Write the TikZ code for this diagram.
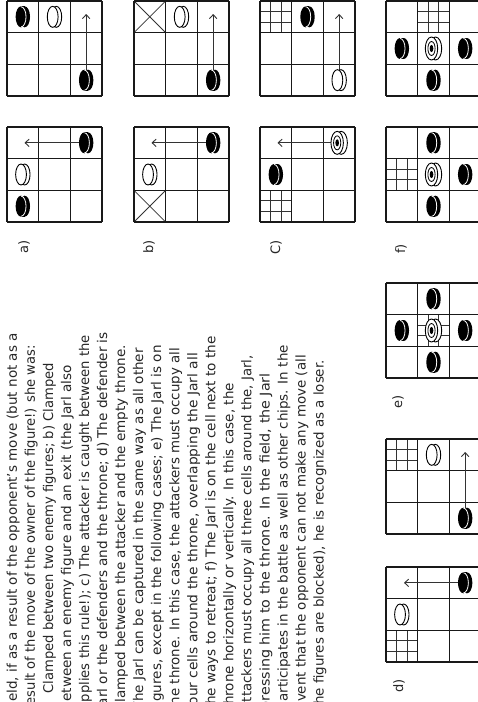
\documentclass[tikz,border=0pt]{standalone}
\usepackage{graphicx}
\usepackage{fontspec}
\setmainfont{DejaVu Sans}
\usetikzlibrary{arrows.meta}
\def\cs{31.667}
\newcommand{\fitline}[2]{\resizebox{#1pt}{\height}{#2}}
\tikzset{
  gl/.style={line width=1.2pt, draw=black!90},
  hl/.style={line width=0.8pt, draw=black!80},
  arr/.style={line width=0.9pt, draw=black!80, -{Straight Barb[length=4pt,width=7.5pt,line width=0.9pt]}},
  txt/.style={rotate=90, anchor=base east, inner sep=0pt, text=black!85, font=\fontsize{13.4}{16}\selectfont},
  lab/.style={rotate=90, inner sep=0pt, text=black!85, font=\fontsize{13}{16}\selectfont},
  bchip/.pic={
    \fill (1.8,0) ellipse [x radius=5.4, y radius=10.5];
    \fill (-1.8,-10.5) rectangle (1.8,10.5);
    \fill (-1.8,0) ellipse [x radius=5.4, y radius=10.5];
    \begin{scope}
      \clip (-1.8,-11.5) rectangle (7,11.5);
      \draw[white, line width=0.8pt] (-1.8,0) ellipse [x radius=5.0, y radius=10.1];
    \end{scope}
  },
  wchip/.pic={
    \filldraw[fill=white, line width=0.9pt] (1.8,0) ellipse [x radius=5.4, y radius=10.5];
    \filldraw[fill=white, line width=0.9pt] (-1.8,0) ellipse [x radius=5.4, y radius=10.5];
  },
  jarl/.pic={
    \filldraw[fill=white, line width=0.9pt] (2,0) ellipse [x radius=6.2, y radius=11.5];
    \filldraw[fill=white, line width=0.9pt] (-2,0) ellipse [x radius=6.2, y radius=11.5];
    \draw[line width=0.8pt] (-2,0) ellipse [x radius=3.6, y radius=7];
    \fill (-2,0) ellipse [x radius=1.8, y radius=3.6];
  },
  throne/.pic={
    \draw[hl] ({\cs/3},0) -- ({\cs/3},\cs);
    \draw[hl] ({2*\cs/3},0) -- ({2*\cs/3},\cs);
    \draw[hl] (0,{\cs/3}) -- (\cs,{\cs/3});
    \draw[hl] (0,{2*\cs/3}) -- (\cs,{2*\cs/3});
  },
  exitcell/.pic={
    \draw[hl] (0,0) -- (\cs,\cs);
    \draw[hl] (\cs,0) -- (0,\cs);
  }
}
\newcommand{\boardlines}{%
  \foreach \i in {0,1,2,3}{%
    \draw[gl] ({\i*\cs},0) -- ({\i*\cs},{3*\cs});
    \draw[gl] (0,{\i*\cs}) -- ({3*\cs},{\i*\cs});
  }}
\begin{document}
\begin{tikzpicture}[x=1pt,y=-1pt]
\useasboundingbox (0,0) rectangle (478,702);
\fill[white] (0,0) rectangle (478,702);
\begin{scope}
\clip (0,0) rectangle (478,702);

% ---------- a) ----------
\begin{scope}[shift={(7,1)}]
  \boardlines
  \coordinate (A1s) at ({2.5*\cs},{2.5*\cs});
  \coordinate (A1t) at ({2.5*\cs},13);
  \draw[arr] (A1s) -- (A1t);
  \pic at ({0.5*\cs},{0.5*\cs}) {bchip};
  \pic at ({1.5*\cs},{0.5*\cs}) {wchip};
  \pic at (A1s) {bchip};
\end{scope}
\begin{scope}[shift={(7,127)}]
  \boardlines
  \coordinate (A2s) at ({2.5*\cs},{0.5*\cs});
  \coordinate (A2t) at (17.5,{0.5*\cs});
  \draw[arr] (A2s) -- (A2t);
  \pic at (A2s) {bchip};
  \pic at ({0.5*\cs},{1.5*\cs}) {wchip};
  \pic at ({0.5*\cs},{2.5*\cs}) {bchip};
\end{scope}

% ---------- b) ----------
\begin{scope}[shift={(134,1)}]
  \pic at (0,0) {exitcell};
  \boardlines
  \coordinate (B1s) at ({2.5*\cs},{2.5*\cs});
  \coordinate (B1t) at ({2.5*\cs},13);
  \draw[arr] (B1s) -- (B1t);
  \pic at ({1.5*\cs},{0.5*\cs}) {wchip};
  \pic at (B1s) {bchip};
\end{scope}
\begin{scope}[shift={(134,127)}]
  \pic at (0,{2*\cs}) {exitcell};
  \boardlines
  \coordinate (B2s) at ({2.5*\cs},{0.5*\cs});
  \coordinate (B2t) at (17.5,{0.5*\cs});
  \draw[arr] (B2s) -- (B2t);
  \pic at (B2s) {bchip};
  \pic at ({0.5*\cs},{1.5*\cs}) {wchip};
\end{scope}

% ---------- c) ----------
\begin{scope}[shift={(260,1)}]
  \pic at (0,0) {throne};
  \boardlines
  \coordinate (C1s) at ({2.5*\cs},{2.5*\cs});
  \coordinate (C1t) at ({2.5*\cs},13);
  \draw[arr] (C1s) -- (C1t);
  \pic at ({1.5*\cs},{0.5*\cs}) {bchip};
  \pic at (C1s) {wchip};
\end{scope}
\begin{scope}[shift={(260,127)}]
  \pic at (0,{2*\cs}) {throne};
  \boardlines
  \coordinate (C2s) at ({2.5*\cs},{0.5*\cs});
  \coordinate (C2t) at (17.5,{0.5*\cs});
  \draw[arr] (C2s) -- (C2t);
  \pic at (C2s) {jarl};
  \pic at ({0.5*\cs},{1.5*\cs}) {bchip};
\end{scope}

% ---------- f) ----------
\begin{scope}[shift={(386,1)}]
  \pic at (\cs,0) {throne};
  \boardlines
  \pic at ({0.5*\cs},{1.5*\cs}) {bchip};
  \pic at ({1.5*\cs},{1.5*\cs}) {jarl};
  \pic at ({2.5*\cs},{1.5*\cs}) {bchip};
  \pic at ({1.5*\cs},{2.5*\cs}) {bchip};
\end{scope}
\begin{scope}[shift={(386,127)}]
  \pic at (0,\cs) {throne};
  \boardlines
  \pic at ({1.5*\cs},{0.5*\cs}) {bchip};
  \pic at ({1.5*\cs},{1.5*\cs}) {jarl};
  \pic at ({2.5*\cs},{1.5*\cs}) {bchip};
  \pic at ({1.5*\cs},{2.5*\cs}) {bchip};
\end{scope}

% ---------- e) ----------
\begin{scope}[shift={(386,283)}]
  \pic at (\cs,\cs) {throne};
  \boardlines
  \pic at ({1.5*\cs},{0.5*\cs}) {bchip};
  \pic at ({0.5*\cs},{1.5*\cs}) {bchip};
  \pic at ({1.5*\cs},{1.5*\cs}) {jarl};
  \pic at ({2.5*\cs},{1.5*\cs}) {bchip};
  \pic at ({1.5*\cs},{2.5*\cs}) {bchip};
\end{scope}

% ---------- d) ----------
\begin{scope}[shift={(386,439)}]
  \pic at (0,0) {throne};
  \boardlines
  \coordinate (D1s) at ({2.5*\cs},{2.5*\cs});
  \coordinate (D1t) at ({2.5*\cs},13);
  \draw[arr] (D1s) -- (D1t);
  \pic at ({1.5*\cs},{0.5*\cs}) {wchip};
  \pic at (D1s) {bchip};
\end{scope}
\begin{scope}[shift={(386,567)}]
  \pic at (0,{2*\cs}) {throne};
  \boardlines
  \coordinate (D2s) at ({2.5*\cs},{0.5*\cs});
  \coordinate (D2t) at (18,{0.5*\cs});
  \draw[arr] (D2s) -- (D2t);
  \pic at (D2s) {bchip};
  \pic at ({0.5*\cs},{1.5*\cs}) {wchip};
\end{scope}

% ---------- labels ----------
\node[lab] (la) at (24,247) {a)};
\node[lab] (lb) at (149,247) {b)};
\node[lab] (lc) at (276,247) {C)};
\node[lab] (lf) at (401,249) {f)};
\node[lab] (le) at (398,402) {e)};
\node[lab] (ld) at (399,686) {d)};

% ---------- text ----------
\node[txt] (t0) at (16.9,333) {\fitline{377}{field, if as a result of the opponent's move (but not as a}};
\node[txt] (t1) at (34.9,345) {\fitline{365}{result of the move of the owner of the figure!) she was:}};
\node[txt] (t2) at (53.0,363) {\fitline{330}{Clamped between two enemy figures; b) Clamped}};
\node[txt] (t3) at (71.0,365) {\fitline{345}{between an enemy figure and an exit (the Jarl also}};
\node[txt] (t4) at (89.1,335) {\fitline{375}{applies this rule!); c) The attacker is caught between the}};
\node[txt] (t5) at (107.1,332) {\fitline{378}{Jarl or the defenders and the throne; d) The defender is}};
\node[txt] (t6) at (125.1,345) {\fitline{365}{clamped between the attacker and the empty throne.}};
\node[txt] (t7) at (143.2,348) {\fitline{362}{The Jarl can be captured in the same way as all other}};
\node[txt] (t8) at (161.2,345) {\fitline{365}{figures, except in the following cases; e) The Jarl is on}};
\node[txt] (t9) at (179.3,348) {\fitline{362}{the throne. In this case, the attackers must occupy all}};
\node[txt] (t10) at (197.3,353) {\fitline{357}{four cells around the throne, overlapping the Jarl all}};
\node[txt] (t11) at (215.3,336) {\fitline{374}{the ways to retreat; f) The Jarl is on the cell next to the}};
\node[txt] (t12) at (233.4,383) {\fitline{327}{throne horizontally or vertically. In this case, the}};
\node[txt] (t13) at (251.4,355) {\fitline{355}{attackers must occupy all three cells around the, Jarl,}};
\node[txt] (t14) at (269.5,373) {\fitline{337}{pressing him to the throne. In the field, the Jarl}};
\node[txt] (t15) at (287.5,345) {\fitline{365}{participates in the battle as well as other chips. In the}};
\node[txt] (t16) at (305.5,355) {\fitline{355}{event that the opponent can not make any move (all}};
\node[txt] (t17) at (323.6,360) {\fitline{350}{the figures are blocked), he is recognized as a loser.}};
\end{scope}
\end{tikzpicture}
\end{document}
